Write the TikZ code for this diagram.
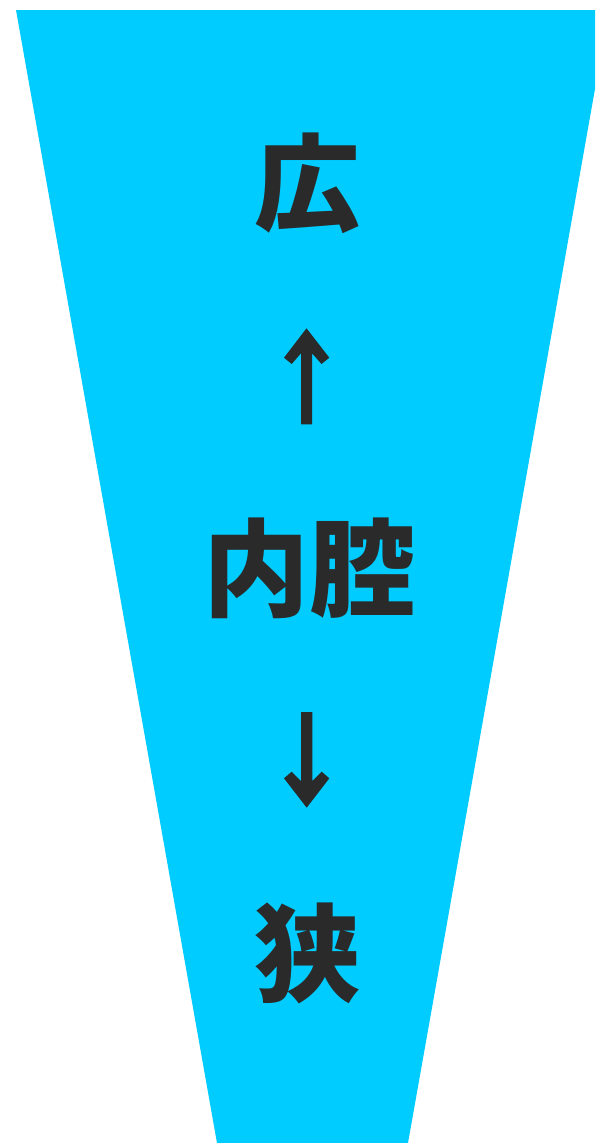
\documentclass[tikz,border=0pt]{standalone}
\usepackage{fontspec}
\newfontfamily\jpfont{Noto Sans CJK JP Black}
\definecolor{funnel}{HTML}{00CCFF}
\definecolor{ink}{HTML}{2A2A2A}
\begin{document}
\begin{tikzpicture}[x=1pt,y=-1pt,
  word/.style={inner sep=0pt,text=ink,font=\jpfont\fontsize{106}{106}\selectfont},
  arrowshape/.style={fill=ink,draw=none}]
\useasboundingbox (0,0) rectangle (595,1143);
\clip (0,0) rectangle (595,1143);
\fill[funnel] (16,10) -- (609,10) -- (408,1143) -- (217,1143) -- cycle;
\node[word] (wide) at (307,183) {広};
\node[word] (lumen) at (309,568) {内腔};
\node[word] (narrow) at (307,953) {狭};
\fill[arrowshape] (306.5,328.3) -- (284,357.7) -- (291.7,364) -- (301,353.3) -- (301,424.3)
  -- (312,424.3) -- (312,353.3) -- (321.5,364) -- (329.3,357.7) -- cycle;
\fill[arrowshape] (306.7,807.7) -- (284,778.3) -- (291.7,771.7) -- (301,781) -- (301,712)
  -- (312.3,712) -- (312.3,781) -- (321.7,771.7) -- (329.3,778.3) -- cycle;
\end{tikzpicture}
\end{document}
